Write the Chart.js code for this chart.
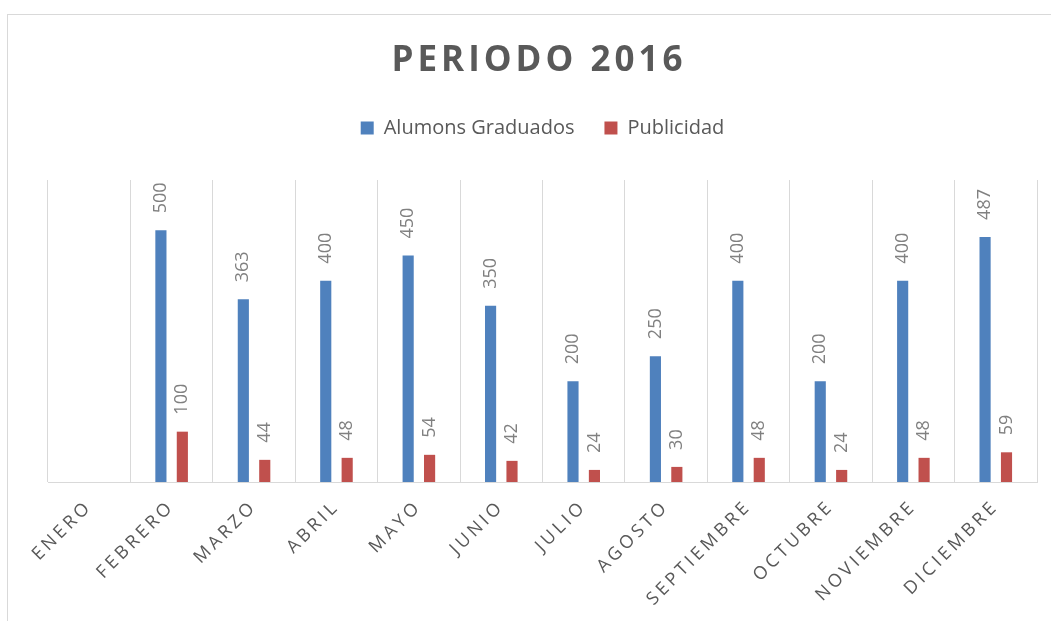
<!DOCTYPE html>
<html>
<head>
<meta charset="utf-8">
<script src="https://cdn.jsdelivr.net/npm/chart.js@4.4.1/dist/chart.umd.min.js"></script>
<style>
  body { margin: 0; background: #fff; }
  #wrap { width: 1051px; height: 621px; }
</style>
</head>
<body>
<div id="wrap"><canvas id="chart" width="1051" height="621"></canvas></div>
<script>
// data
const months = ["ENERO", "FEBRERO", "MARZO", "ABRIL", "MAYO", "JUNIO", "JULIO",
  "AGOSTO", "SEPTIEMBRE", "OCTUBRE", "NOVIEMBRE", "DICIEMBRE"];
const graduados = [null, 500, 363, 400, 450, 350, 200, 250, 400, 200, 400, 487];
const publicidad = [null, 100, 44, 48, 54, 42, 24, 30, 48, 24, 48, 59];

const FONT = "'Open Sans', 'DejaVu Sans', sans-serif";
const GRID = "#d9d9d9";
const TEXT = "#595959";

// category axis with spaced letters, like the original
class SpacedCategoryScale extends Chart.CategoryScale {
  drawLabels(area) {
    const ctx = this.ctx;
    ctx.save();
    ctx.letterSpacing = "3.5px";
    super.drawLabels(area);
    ctx.restore();
  }
}
SpacedCategoryScale.id = "spacedCategory";
SpacedCategoryScale.defaults = Chart.CategoryScale.defaults;
Chart.register(SpacedCategoryScale);

// outer frame + title
const frame = {
  id: "frame",
  beforeDraw(chart) {
    const ctx = chart.ctx;
    ctx.save();
    ctx.strokeStyle = GRID;
    ctx.lineWidth = 1;
    ctx.strokeRect(7.5, 14.5, 1200, 800);
    ctx.restore();
  },
  afterDraw(chart) {
    const ctx = chart.ctx;
    ctx.save();
    ctx.letterSpacing = "4px";
    ctx.font = "bold 35px " + FONT;
    ctx.fillStyle = TEXT;
    ctx.textAlign = "center";
    ctx.textBaseline = "middle";
    ctx.fillText("PERIODO 2016", 539, 61);
    ctx.restore();
  }
};

// rotated value labels above each bar
const valueLabels = {
  id: "valueLabels",
  afterDatasetsDraw(chart) {
    const ctx = chart.ctx;
    ctx.save();
    ctx.font = "18px " + FONT;
    ctx.fillStyle = "#808080";
    ctx.textAlign = "left";
    ctx.textBaseline = "middle";
    chart.data.datasets.forEach((ds, d) => {
      chart.getDatasetMeta(d).data.forEach((bar, i) => {
        const v = ds.data[i];
        if (v == null) return;
        ctx.save();
        ctx.translate(bar.x, bar.y - 17);
        ctx.rotate(-Math.PI / 2);
        ctx.fillText(String(v), 0, 0);
        ctx.restore();
      });
    });
    ctx.restore();
  }
};

new Chart(document.getElementById("chart"), {
  type: "bar",
  data: {
    labels: months,
    datasets: [
      { label: "Alumons Graduados", data: graduados, backgroundColor: "#4f81bd",
        categoryPercentage: 0.52, barPercentage: 0.52 },
      { label: "Publicidad", data: publicidad, backgroundColor: "#c0504d",
        categoryPercentage: 0.52, barPercentage: 0.52 }
    ]
  },
  options: {
    responsive: false,
    animation: false,
    layout: { padding: { top: 88, left: 48, right: 14, bottom: 0 } },
    plugins: {
      title: { display: false },
      tooltip: { enabled: false },
      legend: {
        position: "top",
        labels: {
          boxWidth: 13, boxHeight: 13, padding: 30,
          color: TEXT, font: { family: FONT, size: 20 }
        }
      }
    },
    scales: {
      x: {
        type: "spacedCategory",
        position: "bottom",
        offset: true,
        grid: { color: GRID, drawTicks: false, offset: true },
        border: { color: GRID },
        ticks: {
          color: TEXT, font: { family: FONT, size: 18 },
          minRotation: 45, maxRotation: 45, padding: 14, autoSkip: false
        },
        afterFit(s) { s.height = 139; }
      },
      gap: {
        type: "category",
        position: "top",
        grid: { display: false },
        border: { display: false },
        ticks: { display: false },
        afterFit(s) { s.height = 32; }
      },
      y: { display: false, min: 0, max: 600 }
    }
  },
  plugins: [frame, valueLabels]
});
</script>
</body>
</html>
